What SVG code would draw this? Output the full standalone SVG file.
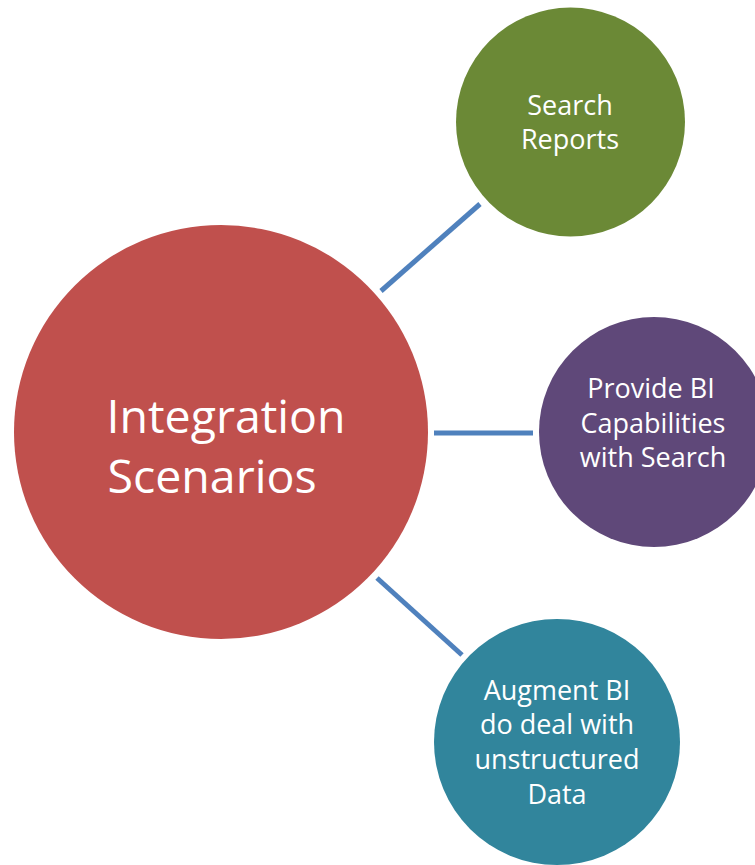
<svg xmlns="http://www.w3.org/2000/svg" width="755" height="865" viewBox="0 0 755 865">
  <style>
    .lbl { font-family: "Open Sans", "Noto Sans", "DejaVu Sans", sans-serif; fill: #FFFFFF; text-anchor: middle; }
    .small { font-size: 27px; }
    .big { font-size: 46.5px; }
    .link { stroke: #4F81BD; stroke-width: 5; fill: none; }
  </style>
  <rect width="755" height="865" fill="#FFFFFF"/>

  <g id="connectors">
    <line class="link" x1="381" y1="291" x2="480" y2="204"/>
    <line class="link" x1="434" y1="433" x2="533" y2="433"/>
    <line class="link" x1="377" y1="578" x2="462" y2="655"/>
  </g>

  <g id="hub">
    <circle cx="221" cy="432" r="207" fill="#C0504D"/>
    <text class="lbl big" x="226" y="433">Integration</text>
    <text class="lbl big" x="212" y="493">Scenarios</text>
  </g>

  <g id="search-reports">
    <circle cx="570.5" cy="122" r="114.5" fill="#6B8936"/>
    <text class="lbl small" x="570" y="115">Search</text>
    <text class="lbl small" x="570" y="149">Reports</text>
  </g>

  <g id="bi-capabilities">
    <circle cx="654" cy="432" r="115" fill="#5F4879"/>
    <text class="lbl small" x="651" y="398">Provide BI</text>
    <text class="lbl small" x="653" y="433">Capabilities</text>
    <text class="lbl small" x="653" y="467">with Search</text>
  </g>

  <g id="augment-bi">
    <circle cx="557" cy="742" r="123" fill="#31859C"/>
    <text class="lbl small" x="557" y="700">Augment BI</text>
    <text class="lbl small" x="557" y="734">do deal with</text>
    <text class="lbl small" x="557" y="769">unstructured</text>
    <text class="lbl small" x="557" y="804">Data</text>
  </g>
</svg>
